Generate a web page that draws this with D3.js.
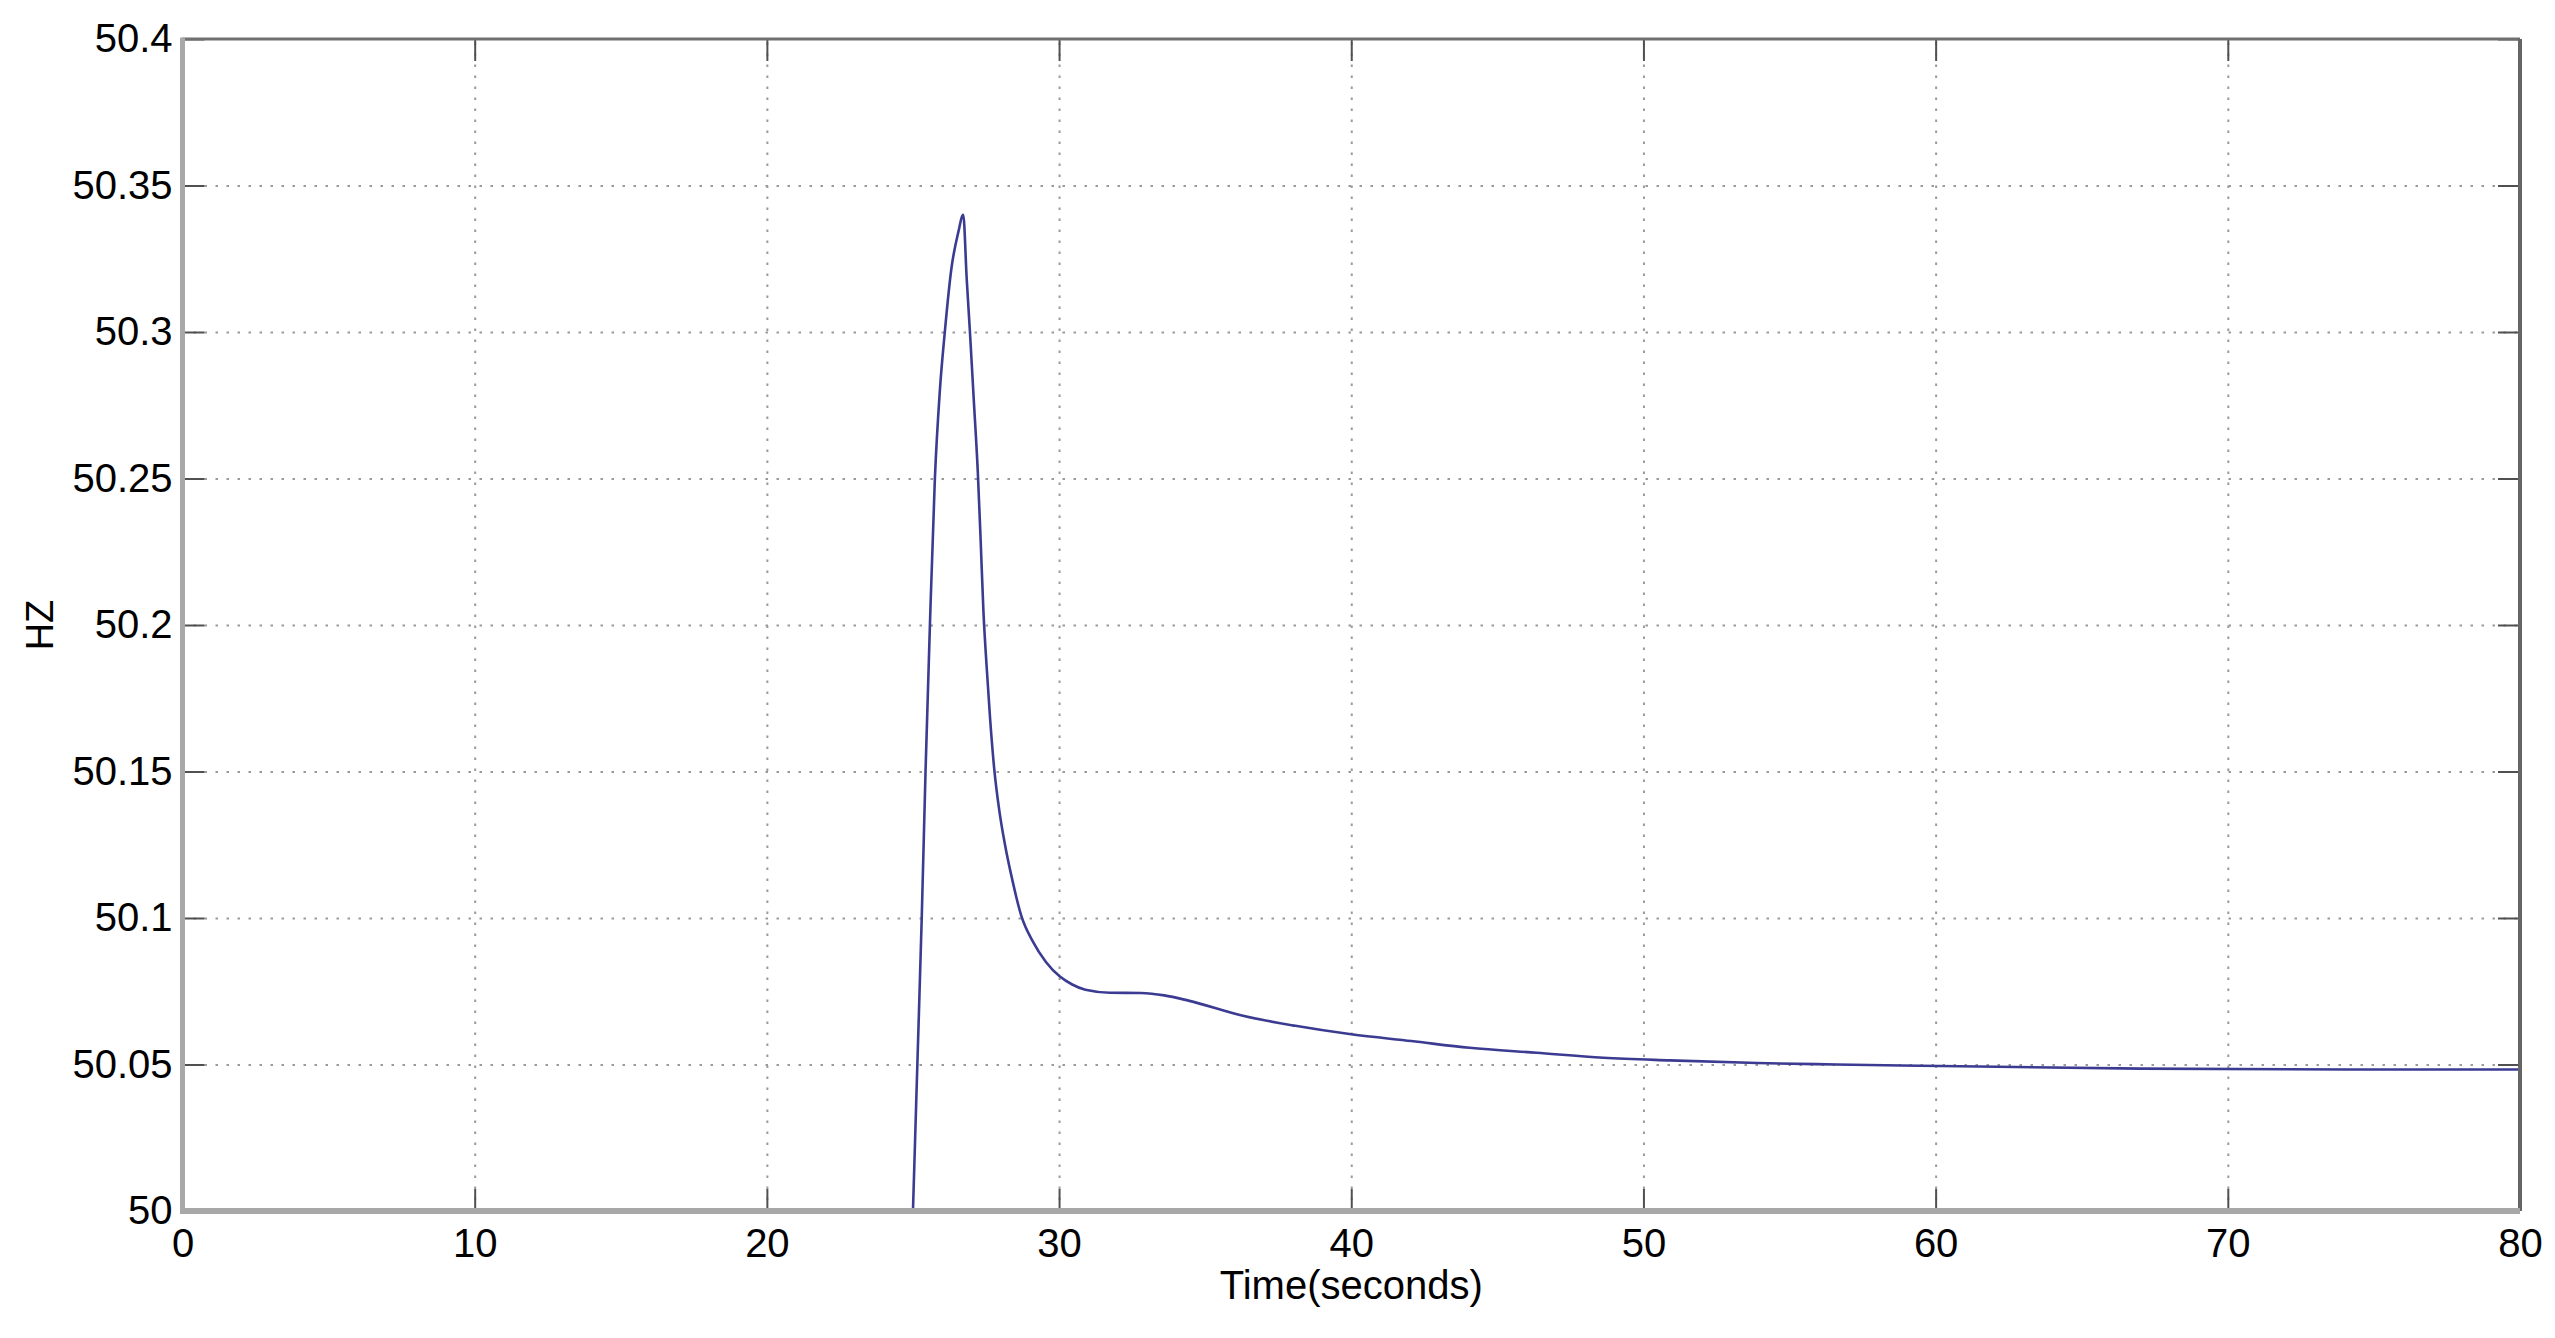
<!DOCTYPE html>
<html lang="en">
<head>
    <meta charset="UTF-8">
    <title>Frequency response</title>
    <script src="https://d3js.org/d3.v7.min.js"></script>
    <style>
        body { margin: 0; background: #fff; }
        svg text { font-family: "Liberation Sans", Arial, sans-serif; fill: #000; }
        .grid line { stroke: #9a9a9a; stroke-width: 2; stroke-dasharray: 2.5,8.5; }
        .grid path { display: none; }
        .ticks line { stroke: #505050; stroke-width: 2; }
        .ticks path { display: none; }
        .ticks text { font-size: 40px; }
    </style>
</head>
<body>
    <svg width="2555" height="1338"></svg>

    <script>
        // time in seconds and frequency in Hz
        const time = [25.0, 25.15, 25.30, 25.43, 25.58, 25.75, 25.92, 26.09, 26.32, 26.55, 26.72,
            26.84, 26.95, 27.08, 27.22, 27.32, 27.41, 27.52, 27.64, 27.78, 27.95, 28.15, 28.4,
            28.7, 29.1, 29.55, 30.03, 30.45, 30.9, 31.74, 32.8, 33.6, 34.43, 36.26, 38.09, 40,
            42.06, 44.05, 46.34, 48.63, 50.9, 53.9, 56.6, 60.15, 67, 74.2, 80];
        const hz = [50.0, 50.05, 50.10, 50.15, 50.20, 50.25, 50.28, 50.30, 50.322, 50.334, 50.34,
            50.318, 50.30, 50.277, 50.252, 50.228, 50.205, 50.186, 50.168, 50.151, 50.137, 50.125, 50.113,
            50.101, 50.092, 50.085, 50.080, 50.0773, 50.0755, 50.0745, 50.0744, 50.0736, 50.0718, 50.0667,
            50.0632, 50.0603, 50.058, 50.0557, 50.054, 50.0523, 50.0514, 50.0505, 50.0500, 50.0495,
            50.0486, 50.0483, 50.0483];

        const xTicks = [0, 10, 20, 30, 40, 50, 60, 70, 80];
        const yTicks = [50, 50.05, 50.1, 50.15, 50.2, 50.25, 50.3, 50.35, 50.4];

        const margin = { top: 39, right: 35, bottom: 127, left: 182.5 };
        const width = 2555 - margin.left - margin.right;
        const height = 1338 - margin.top - margin.bottom;

        const svg = d3.select("svg")
            .append("g")
            .attr("transform", `translate(${margin.left}, ${margin.top})`);

        const x = d3.scaleLinear().domain([0, 80]).range([0, width]);
        const y = d3.scaleLinear().domain([50, 50.4]).range([height, 0]);

        // dotted grid
        svg.append("g").attr("class", "grid")
            .attr("transform", `translate(0, ${height})`)
            .call(d3.axisBottom(x).tickValues(xTicks.slice(1, -1)).tickSize(-height).tickFormat(""));
        svg.append("g").attr("class", "grid")
            .call(d3.axisLeft(y).tickValues(yTicks.slice(1, -1)).tickSize(-width).tickFormat(""));

        // the curve
        const points = time.map((t, i) => ({ t: t, v: hz[i] }));
        svg.append("path")
            .datum(points)
            .attr("fill", "none")
            .attr("stroke", "#3b3b92")
            .attr("stroke-width", 2.6)
            .attr("d", d3.line().x(d => x(d.t)).y(d => y(d.v)).curve(d3.curveMonotoneX));

        // inward ticks on all four sides
        svg.append("g").attr("class", "ticks")
            .attr("transform", `translate(0, ${height})`)
            .call(d3.axisBottom(x).tickValues(xTicks).tickSize(-22).tickPadding(18).tickFormat(d3.format("d")))
            .selectAll("text").attr("y", 18);
        svg.append("g").attr("class", "ticks")
            .call(d3.axisLeft(y).tickValues(yTicks).tickSize(-22).tickPadding(10).tickFormat(d => String(+d.toFixed(2))));
        svg.append("g").attr("class", "ticks")
            .call(d3.axisTop(x).tickValues(xTicks).tickSize(-22).tickFormat(""));
        svg.append("g").attr("class", "ticks")
            .attr("transform", `translate(${width}, 0)`)
            .call(d3.axisRight(y).tickValues(yTicks).tickSize(-22).tickFormat(""));

        // box: top/right thin dark, left/bottom thicker light
        svg.append("line")
            .attr("x1", x(0)).attr("x2", x(80)).attr("y1", y(50.4)).attr("y2", y(50.4))
            .attr("stroke", "#707070").attr("stroke-width", 3);
        svg.append("line")
            .attr("x1", x(80)).attr("x2", x(80)).attr("y1", y(50.4)).attr("y2", y(50))
            .attr("stroke", "#666").attr("stroke-width", 4);
        svg.append("line")
            .attr("x1", x(0)).attr("x2", x(0)).attr("y1", y(50.4) - 1.5).attr("y2", y(50) + 3)
            .attr("stroke", "#a8a8a8").attr("stroke-width", 5);
        svg.append("line")
            .attr("x1", x(0) - 2.5).attr("x2", x(80)).attr("y1", y(50)).attr("y2", y(50))
            .attr("stroke", "#a8a8a8").attr("stroke-width", 6);

        // axis labels
        svg.append("text")
            .attr("x", width / 2)
            .attr("y", height + 88)
            .attr("text-anchor", "middle")
            .attr("font-size", "40px")
            .text("Time(seconds)");

        svg.append("text")
            .attr("transform", `translate(${53 - margin.left}, ${height / 2}) rotate(-90)`)
            .attr("text-anchor", "middle")
            .attr("font-size", "38px")
            .text("HZ");
    </script>
</body>
</html>
